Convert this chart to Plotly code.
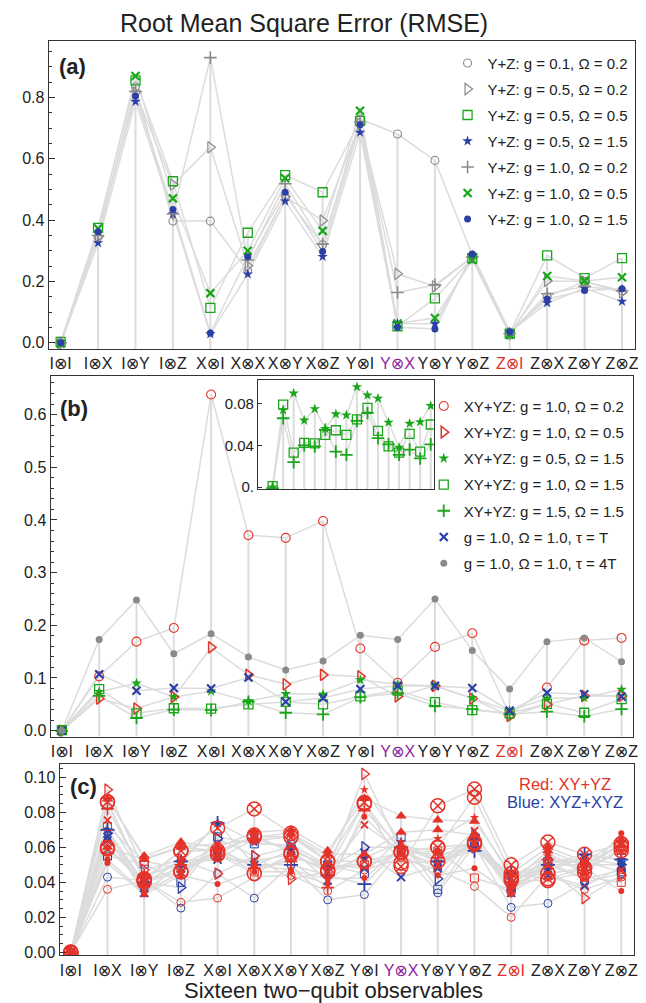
import plotly.graph_objects as go

# ---------------- data ----------------
categories = ["I⊗I", "I⊗X", "I⊗Y", "I⊗Z", "X⊗I", "X⊗X", "X⊗Y", "X⊗Z",
              "Y⊗I", "Y⊗X", "Y⊗Y", "Y⊗Z", "Z⊗I", "Z⊗X", "Z⊗Y", "Z⊗Z"]
label_colors = {"Y⊗X": "#8e1f9e", "Z⊗I": "#e0302a"}
tick_text = [("<span style='color:" + label_colors[c] + "'>" + c + "</span>") if c in label_colors else c
             for c in categories]

# panel (a): Y+Z
a_names = ["Y+Z: g = 0.1, Ω = 0.2", "Y+Z: g = 0.5, Ω = 0.2", "Y+Z: g = 0.5, Ω = 0.5",
           "Y+Z: g = 0.5, Ω = 1.5", "Y+Z: g = 1.0, Ω = 0.2", "Y+Z: g = 1.0, Ω = 0.5",
           "Y+Z: g = 1.0, Ω = 1.5"]
a_g01_o02 = [0.0, 0.345, 0.835, 0.397, 0.397, 0.235, 0.48, 0.32, 0.73, 0.681, 0.595, 0.286, 0.03, 0.15, 0.20, 0.17]
a_g05_o02 = [0.0, 0.346, 0.816, 0.516, 0.638, 0.251, 0.476, 0.399, 0.714, 0.225, 0.184, 0.28, 0.03, 0.202, 0.20, 0.164]
a_g05_o05 = [0.003, 0.375, 0.856, 0.527, 0.114, 0.359, 0.547, 0.491, 0.724, 0.054, 0.145, 0.276, 0.03, 0.285, 0.211, 0.276]
a_g05_o15 = [-0.003, 0.326, 0.787, 0.42, 0.029, 0.224, 0.462, 0.281, 0.686, 0.063, 0.062, 0.285, 0.035, 0.13, 0.178, 0.135]
a_g10_o02 = [0.0, 0.35, 0.82, 0.42, 0.93, 0.27, 0.519, 0.322, 0.72, 0.164, 0.189, 0.28, 0.03, 0.16, 0.184, 0.17]
a_g10_o05 = [-0.003, 0.373, 0.870, 0.471, 0.162, 0.300, 0.537, 0.365, 0.757, 0.063, 0.081, 0.270, 0.026, 0.218, 0.202, 0.214]
a_g10_o15 = [0.0, 0.362, 0.805, 0.435, 0.032, 0.281, 0.491, 0.298, 0.711, 0.051, 0.045, 0.289, 0.036, 0.143, 0.171, 0.176]

# panel (b): XY+YZ and tau runs
b_names = ["XY+YZ: g = 1.0, Ω = 0.2", "XY+YZ: g = 1.0, Ω = 0.5", "XY+YZ: g = 0.5, Ω = 1.5",
           "XY+YZ: g = 1.0, Ω = 1.5", "XY+YZ: g = 1.5, Ω = 1.5",
           "g = 1.0, Ω = 1.0, τ = T", "g = 1.0, Ω = 1.0, τ = 4T"]
b_g10_o02 = [0.0, 0.103, 0.169, 0.195, 0.638, 0.371, 0.366, 0.398, 0.156, 0.091, 0.159, 0.185, 0.03, 0.082, 0.171, 0.176]
b_g10_o05 = [0.0, 0.061, 0.042, 0.064, 0.158, 0.106, 0.088, 0.106, 0.103, 0.065, 0.085, 0.061, 0.028, 0.050, 0.066, 0.066]
b_g05_o15 = [0.0, 0.074, 0.090, 0.064, 0.075, 0.056, 0.070, 0.069, 0.096, 0.088, 0.085, 0.062, 0.038, 0.061, 0.0625, 0.078]
b_g10_o15 = [0.001, 0.079, 0.033, 0.0425, 0.042, 0.050, 0.0545, 0.050, 0.065, 0.076, 0.054, 0.039, 0.033, 0.051, 0.034, 0.060]
b_g15_o15 = [-0.001, 0.066, 0.024, 0.040, 0.039, 0.055, 0.034, 0.031, 0.0635, 0.071, 0.047, 0.041, 0.031, 0.036, 0.0275, 0.041]
b_tau_T = [0.0, 0.107, 0.0756, 0.081, 0.080, 0.101, 0.055, 0.062, 0.079, 0.085, 0.085, 0.081, 0.038, 0.072, 0.069, 0.065]
b_tau_4T = [0.0, 0.173, 0.248, 0.146, 0.184, 0.140, 0.115, 0.132, 0.181, 0.173, 0.250, 0.152, 0.079, 0.169, 0.176, 0.131]

# panel (c): red = XY+YZ, blue = XYZ+XYZ
c_red_circle = [0, 0.036, 0.041, 0.0286, 0.031, 0.043, 0.044, 0.035, 0.047, 0.054, 0.047, 0.0377, 0.020, 0.044, 0.036, 0.043]
c_red_tri = [0, 0.093, 0.047, 0.053, 0.045, 0.055, 0.042, 0.046, 0.102, 0.058, 0.056, 0.060, 0.038, 0.048, 0.031, 0.044]
c_red_square = [0, 0.072, 0.052, 0.048, 0.058, 0.046, 0.054, 0.049, 0.050, 0.056, 0.058, 0.0425, 0.036, 0.051, 0.043, 0.040]
c_red_star = [0, 0.088, 0.054, 0.060, 0.062, 0.064, 0.066, 0.055, 0.093, 0.063, 0.065, 0.077, 0.043, 0.055, 0.050, 0.062]
c_red_plus = [0, 0.082, 0.044, 0.050, 0.060, 0.048, 0.052, 0.037, 0.081, 0.060, 0.054, 0.064, 0.040, 0.053, 0.047, 0.058]
c_red_x = [0, 0.0756, 0.043, 0.052, 0.054, 0.052, 0.056, 0.046, 0.0728, 0.058, 0.050, 0.0695, 0.035, 0.050, 0.042, 0.047]
c_red_dot = [0, 0.051, 0.033, 0.044, 0.039, 0.046, 0.046, 0.039, 0.0775, 0.056, 0.044, 0.048, 0.033, 0.057, 0.045, 0.068]
c_red_dot2 = [0, 0.053, 0.034, 0.046, 0.058, 0.050, 0.047, 0.042, 0.0425, 0.060, 0.058, 0.062, 0.038, 0.054, 0.048, 0.035]
c_red_fill_tri = [0, 0.0876, 0.055, 0.063, 0.060, 0.0686, 0.070, 0.058, 0.088, 0.078, 0.0756, 0.075, 0.045, 0.060, 0.052, 0.064]
c_red_fill_tri2 = [0, 0.060, 0.053, 0.060, 0.058, 0.066, 0.068, 0.056, 0.056, 0.0686, 0.070, 0.067, 0.040, 0.058, 0.050, 0.061]
c_red_big = [0, 0.060, 0.041, 0.046, 0.056, 0.045, 0.056, 0.047, 0.085, 0.0575, 0.060, 0.062, 0.041, 0.041, 0.0457, 0.060]
c_red_big2 = [0, 0.086, 0.042, 0.058, 0.058, 0.066, 0.066, 0.052, 0.052, 0.051, 0.052, 0.063, 0.043, 0.045, 0.048, 0.062]
c_red_otimes = [0, 0.086, 0.041, 0.058, 0.071, 0.082, 0.068, 0.052, 0.0857, 0.049, 0.0838, 0.0933, 0.050, 0.063, 0.056, 0.062]
c_red_otimes2 = [0, 0.059, 0.040, 0.046, 0.056, 0.067, 0.057, 0.046, 0.052, 0.057, 0.060, 0.0886, 0.045, 0.042, 0.048, 0.058]
c_blue_circle = [0, 0.043, 0.041, 0.0253, 0.045, 0.031, 0.050, 0.030, 0.033, 0.058, 0.034, 0.061, 0.0257, 0.028, 0.040, 0.045]
c_blue_tri = [0, 0.068, 0.040, 0.037, 0.065, 0.055, 0.060, 0.048, 0.060, 0.060, 0.042, 0.067, 0.040, 0.050, 0.050, 0.050]
c_blue_square = [0, 0.055, 0.0505, 0.040, 0.066, 0.062, 0.0615, 0.050, 0.045, 0.066, 0.036, 0.065, 0.036, 0.052, 0.052, 0.046]
c_blue_star = [0, 0.070, 0.034, 0.051, 0.074, 0.063, 0.060, 0.047, 0.054, 0.063, 0.052, 0.060, 0.045, 0.047, 0.055, 0.053]
c_blue_plus = [0, 0.070, 0.040, 0.052, 0.074, 0.050, 0.050, 0.044, 0.039, 0.060, 0.052, 0.058, 0.045, 0.050, 0.056, 0.053]
c_blue_x = [0, 0.066, 0.034, 0.051, 0.053, 0.065, 0.059, 0.041, 0.057, 0.043, 0.0495, 0.064, 0.037, 0.044, 0.038, 0.0486]
c_blue_x2 = [0, 0.064, 0.041, 0.048, 0.055, 0.050, 0.058, 0.050, 0.048, 0.058, 0.048, 0.063, 0.034, 0.0467, 0.054, 0.050]

# ---------------- styling ----------------
W, H = 646, 1003
GREY = "#8a8a8a"
GREEN = "#1aa61a"
BLUE = "#2b3fa6"
RED = "#e5332a"
LINE = "#dcdcdc"
FONT = "Liberation Sans, Arial, DejaVu Sans, sans-serif"
xs = list(range(len(categories)))


def px(x):
    return x / W


def py(y):
    return 1 - y / H


fig = go.Figure()


def add_drops(xa, ya, series, y0):
    dx, dy = [], []
    for i in xs:
        top = max(s[i] for s in series)
        dx += [i, i, None]
        dy += [y0, top, None]
    fig.add_trace(go.Scatter(x=dx, y=dy, mode="lines", xaxis=xa, yaxis=ya,
                             line=dict(color=LINE, width=2), showlegend=False, hoverinfo="skip"))


def add_lines(xa, ya, series):
    for s in series:
        fig.add_trace(go.Scatter(x=xs, y=s, mode="lines", xaxis=xa, yaxis=ya,
                                 line=dict(color=LINE, width=1.5), showlegend=False, hoverinfo="skip"))


def add_marks(xa, ya, s, name, symbol, color, size, lw=1.2, legend=None, show=True):
    fig.add_trace(go.Scatter(x=xs, y=s, mode="markers", xaxis=xa, yaxis=ya, name=name,
                             marker=dict(symbol=symbol, color=color, size=size,
                                         line=dict(color=color, width=lw)),
                             showlegend=show, legend=legend, legendgroup=name if show else None))


# ---- panel (a)
a_series = [a_g01_o02, a_g05_o02, a_g05_o05, a_g05_o15, a_g10_o02, a_g10_o05, a_g10_o15]
a_style = [("circle-open", GREY, 8, 1.1), ("triangle-right-open", GREY, 10, 1.2),
           ("square-open", GREEN, 9, 1.3), ("star", BLUE, 8, 0), ("cross-thin-open", GREY, 9, 1.6),
           ("x-thin-open", GREEN, 8, 2.2), ("circle", BLUE, 7, 0)]
add_drops("x", "y", a_series, -0.05)
add_lines("x", "y", a_series)
for s, n, st in zip(a_series, a_names, a_style):
    add_marks("x", "y", s, n, st[0], st[1], st[2], st[3], legend="legend")

# ---- panel (b)
b_series = [b_g10_o02, b_g10_o05, b_g05_o15, b_g10_o15, b_g15_o15, b_tau_T, b_tau_4T]
b_style = [("circle-open", RED, 9, 1.1), ("triangle-right-open", RED, 10, 1.5),
           ("star", GREEN, 8, 0), ("square-open", GREEN, 9, 1.3), ("cross-thin-open", GREEN, 9, 1.8),
           ("x-thin-open", BLUE, 8, 2.2), ("circle", GREY, 7, 0)]
add_drops("x2", "y2", b_series, -0.05)
add_lines("x2", "y2", b_series)
for s, n, st in zip(b_series, b_names, b_style):
    add_marks("x2", "y2", s, n, st[0], st[1], st[2], st[3], legend="legend2")

# ---- inset
in_series = [b_g05_o15, b_g10_o15, b_g15_o15]
add_drops("x4", "y4", in_series, -0.01)
add_lines("x4", "y4", in_series)
for s, st in zip(in_series, [("star", GREEN, 8, 0), ("square-open", GREEN, 9, 1.3),
                             ("cross-thin-open", GREEN, 9, 1.8)]):
    add_marks("x4", "y4", s, "", st[0], st[1], st[2], st[3], show=False)

# ---- panel (c)
c_red = [(c_red_circle, "circle-open", 8, 1.0), (c_red_tri, "triangle-right-open", 10, 1.3),
         (c_red_square, "square-open", 8, 1.0), (c_red_star, "star", 7, 0),
         (c_red_plus, "cross-thin-open", 9, 1.6), (c_red_x, "x-thin-open", 7, 1.8),
         (c_red_dot, "circle", 6, 0), (c_red_dot2, "circle", 6, 0),
         (c_red_fill_tri, "triangle-up", 10, 0), (c_red_fill_tri2, "triangle-up", 10, 0),
         (c_red_big, "circle-open", 14, 1.6), (c_red_big2, "circle-open", 14, 1.6),
         (c_red_otimes, "circle-x-open", 14, 1.5), (c_red_otimes2, "circle-x-open", 14, 1.5)]
c_blue = [(c_blue_circle, "circle-open", 8, 1.0), (c_blue_tri, "triangle-right-open", 10, 1.3),
          (c_blue_square, "square-open", 8, 1.0), (c_blue_star, "star", 8, 0),
          (c_blue_plus, "cross-thin-open", 10, 1.8), (c_blue_x, "x-thin-open", 8, 2.0),
          (c_blue_x2, "x-thin-open", 8, 2.0)]
c_all = [t[0] for t in c_red] + [t[0] for t in c_blue]
add_drops("x3", "y3", c_all, -0.01)
add_lines("x3", "y3", c_all)
for s, sym, sz, lw in c_blue:
    add_marks("x3", "y3", s, "", sym, BLUE, sz, lw, show=False)
for s, sym, sz, lw in c_red:
    add_marks("x3", "y3", s, "", sym, RED, sz, lw, show=False)

# ---------------- layout ----------------
tickfont = dict(family=FONT, size=16, color="#222")
frame = dict(showline=True, mirror=True, linecolor="#333", linewidth=1.2, showgrid=False, zeroline=False)


def xax(domain, rng, anchor):
    return dict(domain=domain, range=rng, anchor=anchor, tickmode="array", tickvals=xs,
                ticktext=tick_text, ticks="", tickangle=0, tickfont=tickfont, **frame)


def yax(domain, rng, anchor, dtick, mdtick, fmt):
    return dict(domain=domain, range=rng, anchor=anchor, dtick=dtick, tick0=0, tickformat=fmt,
                ticks="inside", ticklen=6, tickcolor="#333", tickfont=tickfont,
                minor=dict(ticks="inside", dtick=mdtick, tick0=0, ticklen=3, tickcolor="#333"), **frame)


fig.update_layout(
    width=W, height=H, margin=dict(l=0, r=0, t=0, b=0),
    paper_bgcolor="white", plot_bgcolor="white",
    font=dict(family=FONT, color="#222"),
    xaxis=xax([px(41), px(632)], [-0.32, 15.35], "y"),
    yaxis=yax([py(343), py(33)], [-0.02, 0.985], "x", 0.2, 0.05, ".1f"),
    xaxis2=xax([px(43), px(630)], [-0.30, 15.31], "y2"),
    yaxis2=yax([py(733), py(370)], [-0.0113, 0.6736], "x2", 0.1, 0.02, ".1f"),
    xaxis3=xax([px(52), px(631)], [-0.305, 15.35], "y3"),
    yaxis3=yax([py(953), py(761)], [-0.0017, 0.1074], "x3", 0.02, 0.005, ".2f"),
    xaxis4=dict(domain=[px(252), px(429)], range=[-1.38, 15.28], anchor="y4", showticklabels=False,
                ticks="", **frame),
    yaxis4=dict(domain=[py(484), py(374)], range=[-0.0019, 0.1029], anchor="x4", tickmode="array",
                tickvals=[0, 0.04, 0.08], ticktext=["0.", "0.04", "0.08"], ticks="inside", ticklen=4,
                tickcolor="#333", tickfont=dict(family=FONT, size=15, color="#222"), **frame),
    legend=dict(x=px(443), y=py(39), xanchor="left", yanchor="top", bgcolor="rgba(0,0,0,0)",
                font=dict(family=FONT, size=15, color="#222"), traceorder="grouped",
                tracegroupgap=3.5, itemwidth=30),
    legend2=dict(x=px(419), y=py(384), xanchor="left", yanchor="top", bgcolor="rgba(0,0,0,0)",
                 font=dict(family=FONT, size=15, color="#222"), traceorder="grouped",
                 tracegroupgap=3.7, itemwidth=30),
    showlegend=True,
)

ann = [
    dict(text="Root Mean Square Error (RMSE)", x=px(298), y=py(15), font=dict(size=25)),
    dict(text="<b>(a)</b>", x=px(65), y=py(59), font=dict(size=22)),
    dict(text="<b>(b)</b>", x=px(67), y=py(403), font=dict(size=22)),
    dict(text="<b>(c)</b>", x=px(76), y=py(783), font=dict(size=22)),
    dict(text="Red: XY+YZ", x=px(561), y=py(781), font=dict(size=16.5, color=RED)),
    dict(text="Blue: XYZ+XYZ", x=px(561), y=py(799), font=dict(size=16.5, color=BLUE)),
    dict(text="Sixteen two−qubit observables", x=px(328), y=py(988), font=dict(size=22)),
]
for a in ann:
    f = dict(family=FONT, color="#222")
    f.update(a.pop("font"))
    fig.add_annotation(xref="paper", yref="paper", showarrow=False, xanchor="center", yanchor="middle",
                       font=f, **a)

fig.write_html("out.html")
